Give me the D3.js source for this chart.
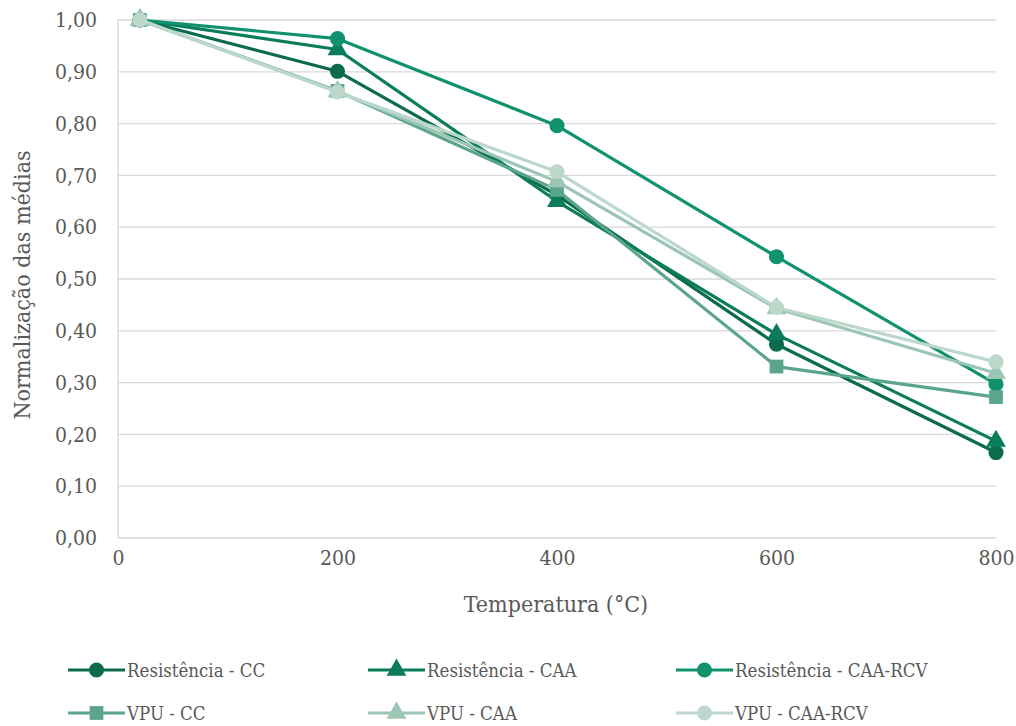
<!DOCTYPE html>
<html>
<head>
<meta charset="utf-8">
<script src="https://cdn.jsdelivr.net/npm/d3@7"></script>
<style>
  body { margin: 0; background: #fff; }
  svg text { font-stretch: condensed; }
</style>
</head>
<body>
<svg id="chart" width="1016" height="726"></svg>
<script>
// temperaturas (°C)
var temperatures = [20, 200, 400, 600, 800]

// series normalizadas
var resCC = [1.00, 0.901, 0.662, 0.374, 0.165]
var resCAA = [1.00, 0.943, 0.650, 0.393, 0.187]
var resCAARCV = [1.00, 0.964, 0.796, 0.543, 0.297]
var vpuCC = [1.00, 0.863, 0.672, 0.331, 0.272]
var vpuCAA = [1.00, 0.862, 0.688, 0.443, 0.318]
var vpuCAARCV = [1.00, 0.861, 0.707, 0.445, 0.340]

var seriesNames = ["Resistência - CC", "Resistência - CAA", "Resistência - CAA-RCV",
    "VPU - CC", "VPU - CAA", "VPU - CAA-RCV"]
var seriesValues = [resCC, resCAA, resCAARCV, vpuCC, vpuCAA, vpuCAARCV]
var seriesColors = ["#0b6b4c", "#0a7c5c", "#10926f", "#5ba68a", "#9bc6b3", "#bcd8cb"]
var seriesSymbols = ["circle", "triangle", "circle", "square", "triangle", "circle"]

var xTicks = [0, 200, 400, 600, 800]
var yTicks = [0, 0.1, 0.2, 0.3, 0.4, 0.5, 0.6, 0.7, 0.8, 0.9, 1.0]

var FONT = "'DejaVu Serif Condensed', 'DejaVu Serif', serif"

var svg = d3.select("#chart"),
    margin = { top: 20, right: 20, bottom: 188, left: 118 },
    width = +svg.attr("width") - margin.left - margin.right,
    height = +svg.attr("height") - margin.top - margin.bottom;

var g = svg.append("g")
    .attr("transform", translate(margin.left, margin.top));

var x = d3.scaleLinear().domain([0, 800]).range([0, width])
var y = d3.scaleLinear().domain([0, 1]).range([height, 0])

// grid
g.append("g").selectAll("line")
    .data(yTicks)
    .enter().append("line")
    .attr("x1", 0).attr("x2", width)
    .attr("y1", d => y(d)).attr("y2", d => y(d))
    .attr("stroke", "#d9d9d9").attr("stroke-width", 1.3)

g.append("line")
    .attr("x1", 0).attr("x2", 0).attr("y1", 0).attr("y2", height)
    .attr("stroke", "#d9d9d9").attr("stroke-width", 1.3)

var fmt = d => d3.format(".2f")(d).replace(".", ",")

var yAxis = g.append("g")
    .call(d3.axisLeft(y).tickValues(yTicks).tickFormat(fmt).tickSize(0).tickPadding(21))
yAxis.attr("font-family", FONT).attr("font-size", 21)
yAxis.select(".domain").remove()
yAxis.selectAll("text").attr("fill", "#595959")

var xAxis = g.append("g")
    .attr("transform", translate(0, height))
    .call(d3.axisBottom(x).tickValues(xTicks).tickSize(0).tickPadding(12))
xAxis.attr("font-family", FONT).attr("font-size", 21)
xAxis.select(".domain").remove()
xAxis.selectAll("text").attr("fill", "#595959")

// axis titles
svg.append("text")
    .attr("x", 556).attr("y", 612)
    .attr("text-anchor", "middle").attr("font-size", 23)
    .attr("font-family", FONT).attr("fill", "#595959")
    .text("Temperatura (°C)")

svg.append("text")
    .attr("transform", "translate(30," + (margin.top + height / 2 + 6) + ") rotate(-90)")
    .attr("text-anchor", "middle").attr("font-size", 23)
    .attr("font-family", FONT).attr("fill", "#595959")
    .text("Normalização das médias")

var symbolSizes = { circle: 180, triangle: 170, square: 190 }
function symbolPath(name) {
    var type = name == "circle" ? d3.symbolCircle : name == "triangle" ? d3.symbolTriangle : d3.symbolSquare
    return d3.symbol().type(type).size(symbolSizes[name])()
}

var line = d3.line()
    .x((d, i) => x(temperatures[i]))
    .y(d => y(d))

// draw series (last series on top)
seriesValues.forEach((vals, k) => {
    var s = g.append("g")
    s.append("path")
        .datum(vals)
        .attr("d", line)
        .attr("fill", "none")
        .attr("stroke", seriesColors[k])
        .attr("stroke-width", 3.2)
        .attr("stroke-linejoin", "round")
    s.selectAll("path.mark")
        .data(vals)
        .enter().append("path")
        .attr("class", "mark")
        .attr("d", symbolPath(seriesSymbols[k]))
        .attr("transform", (d, i) => translate(x(temperatures[i]), y(d)))
        .attr("fill", seriesColors[k])
})

// legend
var legendCols = [68, 368, 676]
var legendRows = [670, 713]
seriesNames.forEach((name, k) => {
    var lx = legendCols[k % 3], ly = legendRows[Math.floor(k / 3)]
    var lg = svg.append("g").attr("transform", translate(lx, ly))
    lg.append("line")
        .attr("x1", 0).attr("x2", 57).attr("y1", 0).attr("y2", 0)
        .attr("stroke", seriesColors[k]).attr("stroke-width", 3.2)
    lg.append("path")
        .attr("d", symbolPath(seriesSymbols[k]))
        .attr("transform", translate(28.5, 0))
        .attr("fill", seriesColors[k])
    lg.append("text")
        .attr("x", 59).attr("y", 7)
        .attr("font-size", 18.5)
        .attr("font-family", FONT).attr("fill", "#595959")
        .text(name)
})

function translate(x, y) {
    return "translate(" + x + "," + y + ")";
}
</script>
</body>
</html>
